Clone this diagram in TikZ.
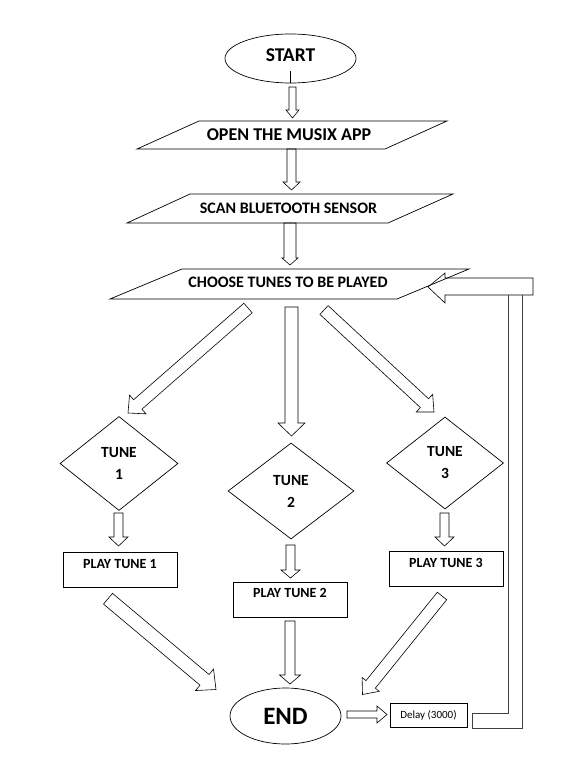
\documentclass[tikz,border=0pt]{standalone}
\usepackage{fontspec}
\setmainfont{Carlito}
\usetikzlibrary{calc,shapes.geometric}
\tikzset{
  shapeline/.style={draw=black, line width=0.7pt},
  barrow/.style={draw=black, line width=0.6pt, line join=miter},
  pipe/.style={draw=black!75, line width=0.7pt},
  txt/.style={inner sep=0pt, font=\bfseries\fontsize{#1}{#1}\selectfont},
  dia/.style={diamond, shapeline, inner sep=0pt, align=center,
    font=\bfseries\fontsize{15.5}{22}\selectfont},
  playbox/.style={rectangle, shapeline, minimum width=114pt, minimum height=35pt, inner sep=0pt},
}
\newcommand{\blockarrow}[5]{%
  \coordinate (ba-h) at ($(#2)!#5!(#1)$);
  \draw[barrow] ($(#1)!#3!90:(#2)$) -- ($(ba-h)!#3!90:(#2)$) -- ($(ba-h)!#4!90:(#2)$)
    -- (#2) -- ($(ba-h)!#4!-90:(#2)$) -- ($(ba-h)!#3!-90:(#2)$) -- ($(#1)!#3!-90:(#2)$) -- cycle;
}
\begin{document}
\begin{tikzpicture}[x=1pt,y=-1pt]
\path[use as bounding box] (0,0) rectangle (587,775);

% START
\node[ellipse, shapeline, minimum width=131pt, minimum height=49pt, inner sep=0pt] (start) at (290.5,58.5) {};
\node[txt=19.5] (starttxt) at (290.5,55) {START};
\draw[shapeline] (start.south) -- ++(0,-12);

% OPEN
\draw[shapeline] (199,121) -- (447,121) -- (385,149) -- (137,149) -- cycle;
\node[txt=18] (open) at (289,134.5) {OPEN THE MUSIX APP};

% SCAN
\draw[shapeline] (190,194) -- (453,194) -- (388,223) -- (127,223) -- cycle;
\node[txt=16] (scan) at (288.5,208.5) {SCAN BLUETOOTH SENSOR};

% CHOOSE
\draw[shapeline] (182,269) -- (469,269) -- (397,299) -- (110,299) -- cycle;
\node[txt=16] (choose) at (288,282.5) {CHOOSE TUNES TO BE PLAYED};

% diamonds
\node[dia, minimum width=118pt, minimum height=94pt] (t1) at (119,463.5) {TUNE\\1};
\node[dia, minimum width=126pt, minimum height=96pt] (t2) at (291,491) {TUNE\\2};
\node[dia, minimum width=117pt, minimum height=92pt] (t3) at (445,463) {TUNE\\3};

% play boxes
\node[playbox] (p1) at (120,569.5) {};
\node[txt=14] (p1t) at ($(p1.north)+(0,12)$) {PLAY TUNE 1};
\node[playbox] (p2) at (290,599.5) {};
\node[txt=14] (p2t) at ($(p2.north)+(0,11)$) {PLAY TUNE 2};
\node[playbox] (p3) at (446,568.5) {};
\node[txt=14] (p3t) at ($(p3.north)+(0,12)$) {PLAY TUNE 3};

% END
\node[ellipse, shapeline, minimum width=111pt, minimum height=56pt, inner sep=0pt] (end) at (285.5,716) {};
\node[txt=25] (endtxt) at (285.5,716) {END};

% Delay
\node[rectangle, shapeline, minimum width=77pt, minimum height=24pt, inner sep=0pt,
  font=\fontsize{11}{11}\selectfont] (delay) at (428.5,715) {Delay (3000)};

% arrow end points
\coordinate (a1s) at (292.5,87);  \coordinate (a1e) at (292.5,118);
\coordinate (a2s) at (291.5,149); \coordinate (a2e) at (291.5,190);
\coordinate (a3s) at (290,223);   \coordinate (a3e) at (290,265);
\coordinate (a4s) at (248,308);   \coordinate (a4e) at (128,413);
\coordinate (a5s) at (291.5,307); \coordinate (a5e) at (291.5,436);
\coordinate (a6s) at (324,310);   \coordinate (a6e) at (434,412);
\coordinate (a7s) at (118.5,513); \coordinate (a7e) at (118.5,546);
\coordinate (a8s) at (290.5,545); \coordinate (a8e) at (290.5,578);
\coordinate (a9s) at (444.5,513); \coordinate (a9e) at (444.5,546);
\coordinate (a10s) at (108,598.7); \coordinate (a10e) at (216,689.5);
\coordinate (a11s) at (290,621);  \coordinate (a11e) at (290,684);
\coordinate (a12s) at (442,596);  \coordinate (a12e) at (362.5,694.5);
\coordinate (a13s) at (347,714.5); \coordinate (a13e) at (387,714.5);

\blockarrow{a1s}{a1e}{3.5pt}{6.5pt}{8pt}
\blockarrow{a2s}{a2e}{4.5pt}{8.5pt}{8pt}
\blockarrow{a3s}{a3e}{6pt}{8pt}{7pt}
\blockarrow{a4s}{a4e}{6.3pt}{12.5pt}{13pt}
\blockarrow{a5s}{a5e}{6.5pt}{13.5pt}{13pt}
\blockarrow{a6s}{a6e}{6pt}{12pt}{13pt}
\blockarrow{a7s}{a7e}{4.5pt}{9.5pt}{9pt}
\blockarrow{a8s}{a8e}{4.5pt}{9.5pt}{8pt}
\blockarrow{a9s}{a9e}{4.5pt}{9.5pt}{9pt}
\blockarrow{a10s}{a10e}{7pt}{14pt}{15pt}
\blockarrow{a11s}{a11e}{5pt}{10.5pt}{9pt}
\blockarrow{a12s}{a12e}{6pt}{11pt}{13pt}
\blockarrow{a13s}{a13e}{3.5pt}{8.5pt}{10pt}

% loop back arrow
\coordinate (loopend) at (428,287);
\draw[barrow] (533,278) -- (445,278) -- (445,273) -- (loopend) -- (445,303) -- (445,295) -- (533,295) -- cycle;
\draw[pipe] (508,295) -- (508,713) -- (472,713) -- (472,728) -- (522,728) -- (522,295);
\end{tikzpicture}
\end{document}
